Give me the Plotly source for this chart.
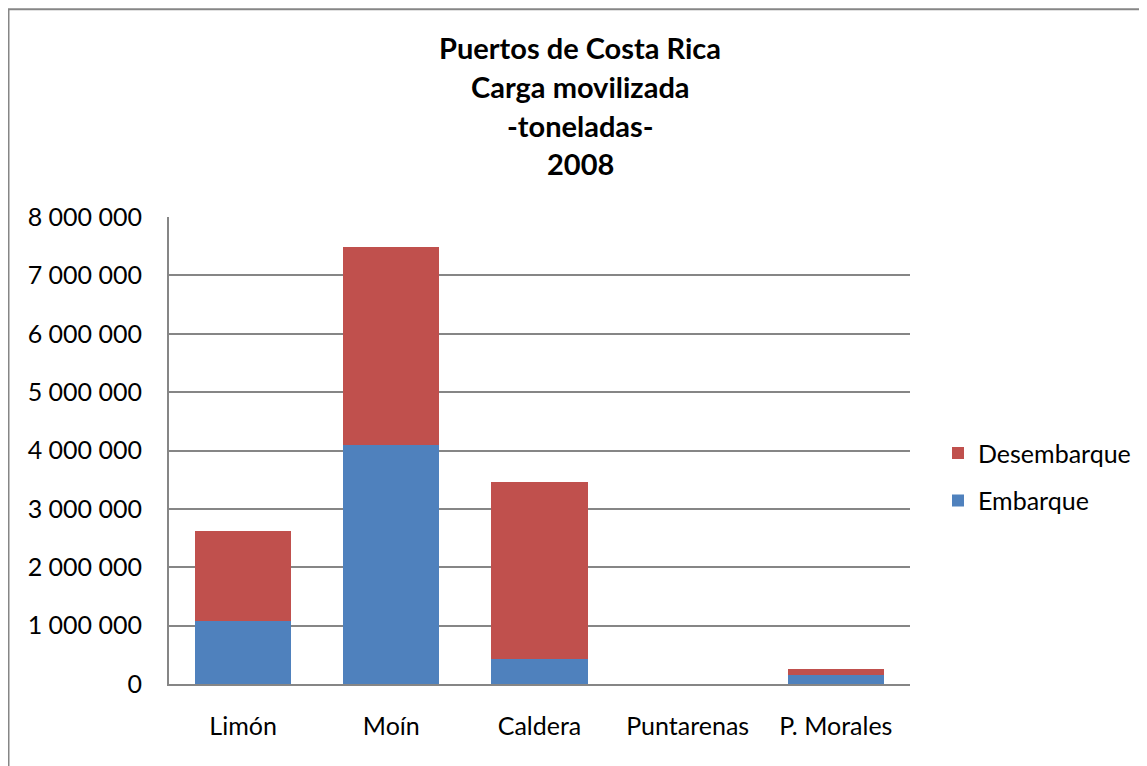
import plotly.graph_objects as go

categories = ["Limón", "Moín", "Caldera", "Puntarenas", "P. Morales"]
embarque = [1085000, 4088000, 427000, 0, 154000]
desembarque = [1532000, 3400000, 3028000, 0, 102000]
tick_values = [0, 1000000, 2000000, 3000000, 4000000, 5000000, 6000000, 7000000, 8000000]
tick_labels = ["0", "1 000 000", "2 000 000", "3 000 000", "4 000 000",
               "5 000 000", "6 000 000", "7 000 000", "8 000 000"]
title_lines = ["Puertos de Costa Rica", "Carga movilizada", "-toneladas-", "2008"]

FONT = "Lato"
GRAY = "#868686"

fig = go.Figure()
fig.add_trace(go.Bar(x=categories, y=embarque, name="Embarque",
                     marker=dict(color="#4F81BD", line=dict(width=0)),
                     legendgroup="e", legendrank=2))
fig.add_trace(go.Bar(x=categories, y=desembarque, name="Desembarque",
                     marker=dict(color="#C0504D", line=dict(width=0)),
                     legendgroup="d", legendrank=1))

# page body has an 8px margin, so figure coords = page coords - 8
OFF = 8
L, R, T, B = 169 - OFF, 910 - OFF, 216.5 - OFF, 684.3 - OFF
W, H = 1147, 766
pw, ph = R - L, B - T

def px(x):
    return (x - L) / pw

def py(y):
    return (B - y) / ph

annotations = []
for i, line in enumerate(title_lines):
    annotations.append(dict(text="<b>%s</b>" % line, xref="paper", yref="paper",
                            x=px(572), y=py(39 + i * 38.7), showarrow=False,
                            xanchor="center", yanchor="middle",
                            font=dict(family=FONT, size=29, color="black")))

fig.update_layout(
    width=W, height=H,
    margin=dict(l=L, r=W - R, t=T, b=H - B, pad=0),
    barmode="stack", bargap=0.35,
    plot_bgcolor="white", paper_bgcolor="white",
    font=dict(family=FONT, size=25, color="black"),
    showlegend=True,
    legend=dict(x=px(930), y=py(422), xanchor="left", yanchor="top",
                traceorder="grouped", tracegroupgap=12,
                font=dict(family=FONT, size=25, color="black"),
                itemwidth=30, bgcolor="rgba(0,0,0,0)"),
    annotations=annotations,
    shapes=[dict(type="rect", xref="paper", yref="paper",
                 x0=px(0.5), x1=px(1400), y0=py(900), y1=py(0.5),
                 line=dict(color=GRAY, width=2), layer="below")],
)
fig.update_xaxes(showline=True, linecolor=GRAY, linewidth=2, showgrid=False,
                 ticks="", ticklabelstandoff=19, tickfont=dict(size=25))
fig.update_yaxes(range=[0, 8000000], tickvals=tick_values, ticktext=tick_labels,
                 showline=True, linecolor=GRAY, linewidth=2,
                 showgrid=True, gridcolor=GRAY, gridwidth=1.5,
                 zeroline=False, ticks="", ticklabelstandoff=20,
                 tickfont=dict(size=25))

fig.write_html("out.html")
